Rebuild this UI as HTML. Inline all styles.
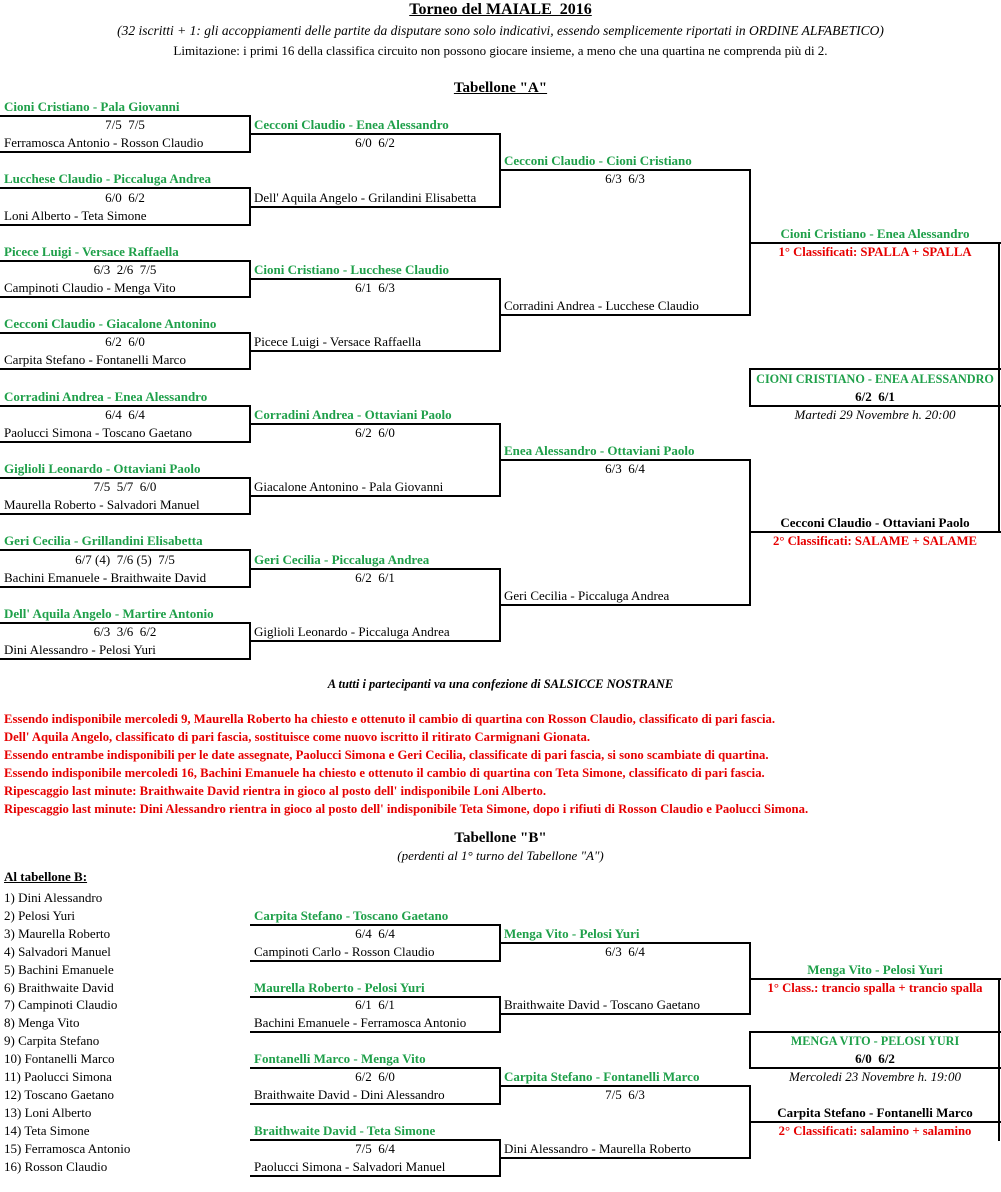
<!DOCTYPE html>
<html><head><meta charset="utf-8"><style>
body{margin:0;width:1001px;height:1192px;background:#fff;position:relative;overflow:hidden;font-family:"Liberation Serif",serif;color:#000}
.t{position:absolute;white-space:nowrap;font-size:13px;line-height:18px}
.g{color:#1fa04a;font-weight:bold}
.r{color:#e60000;font-weight:bold;font-size:12.7px}
.b{font-weight:bold}
.i{font-style:italic}
.c{text-align:center}
.h{position:absolute;height:2px;background:#000}
.v{position:absolute;width:2px;background:#000}
</style></head><body>
<div class="t b c" style="top:0;left:0;width:1001px;font-size:16px;line-height:20px"><u>Torneo del MAIALE&nbsp; 2016</u></div>
<div class="t i c" style="top:22px;left:0;width:1001px;font-size:13.5px">(32 iscritti + 1: gli accoppiamenti delle partite da disputare sono solo indicativi, essendo semplicemente riportati in ORDINE ALFABETICO)</div>
<div class="t c" style="top:42px;left:0;width:1001px;font-size:13px">Limitazione: i primi 16 della classifica circuito non possono giocare insieme, a meno che una quartina ne comprenda più di 2.</div>
<div class="t b c" style="top:78px;left:0;width:1001px;font-size:15px;line-height:20px"><u>Tabellone "A"</u></div>

<!-- Column A -->
<div class="t g" style="left:4px;top:98px">Cioni Cristiano - Pala Giovanni</div>
<div class="t c" style="left:0;width:250px;top:116.1px">7/5&nbsp; 7/5</div>
<div class="t" style="left:4px;top:134.2px">Ferramosca Antonio - Rosson Claudio</div>
<div class="h" style="left:0;width:251px;top:115px"></div><div class="h" style="left:0;width:251px;top:151.2px"></div><div class="v" style="left:249px;top:115px;height:38px"></div>

<div class="t g" style="left:4px;top:170.4px">Lucchese Claudio - Piccaluga Andrea</div>
<div class="t c" style="left:0;width:250px;top:188.5px">6/0&nbsp; 6/2</div>
<div class="t" style="left:4px;top:206.6px">Loni Alberto - Teta Simone</div>
<div class="h" style="left:0;width:251px;top:187.4px"></div><div class="h" style="left:0;width:251px;top:223.6px"></div><div class="v" style="left:249px;top:187.4px;height:38px"></div>

<div class="t g" style="left:4px;top:242.8px">Picece Luigi - Versace Raffaella</div>
<div class="t c" style="left:0;width:250px;top:260.9px">6/3&nbsp; 2/6&nbsp; 7/5</div>
<div class="t" style="left:4px;top:279px">Campinoti Claudio - Menga Vito</div>
<div class="h" style="left:0;width:251px;top:259.8px"></div><div class="h" style="left:0;width:251px;top:296px"></div><div class="v" style="left:249px;top:259.8px;height:38px"></div>

<div class="t g" style="left:4px;top:315.2px">Cecconi Claudio - Giacalone Antonino</div>
<div class="t c" style="left:0;width:250px;top:333.3px">6/2&nbsp; 6/0</div>
<div class="t" style="left:4px;top:351.4px">Carpita Stefano - Fontanelli Marco</div>
<div class="h" style="left:0;width:251px;top:332.2px"></div><div class="h" style="left:0;width:251px;top:368.4px"></div><div class="v" style="left:249px;top:332.2px;height:38px"></div>

<div class="t g" style="left:4px;top:387.6px">Corradini Andrea - Enea Alessandro</div>
<div class="t c" style="left:0;width:250px;top:405.7px">6/4&nbsp; 6/4</div>
<div class="t" style="left:4px;top:423.8px">Paolucci Simona - Toscano Gaetano</div>
<div class="h" style="left:0;width:251px;top:404.6px"></div><div class="h" style="left:0;width:251px;top:440.8px"></div><div class="v" style="left:249px;top:404.6px;height:38px"></div>

<div class="t g" style="left:4px;top:460px">Giglioli Leonardo - Ottaviani Paolo</div>
<div class="t c" style="left:0;width:250px;top:478.1px">7/5&nbsp; 5/7&nbsp; 6/0</div>
<div class="t" style="left:4px;top:496.2px">Maurella Roberto - Salvadori Manuel</div>
<div class="h" style="left:0;width:251px;top:477px"></div><div class="h" style="left:0;width:251px;top:513.2px"></div><div class="v" style="left:249px;top:477px;height:38px"></div>

<div class="t g" style="left:4px;top:532.4px">Geri Cecilia - Grillandini Elisabetta</div>
<div class="t c" style="left:0;width:250px;top:550.5px">6/7 (4)&nbsp; 7/6 (5)&nbsp; 7/5</div>
<div class="t" style="left:4px;top:568.6px">Bachini Emanuele - Braithwaite David</div>
<div class="h" style="left:0;width:251px;top:549.4px"></div><div class="h" style="left:0;width:251px;top:585.6px"></div><div class="v" style="left:249px;top:549.4px;height:38px"></div>

<div class="t g" style="left:4px;top:604.8px">Dell' Aquila Angelo - Martire Antonio</div>
<div class="t c" style="left:0;width:250px;top:622.9px">6/3&nbsp; 3/6&nbsp; 6/2</div>
<div class="t" style="left:4px;top:641px">Dini Alessandro - Pelosi Yuri</div>
<div class="h" style="left:0;width:251px;top:621.8px"></div><div class="h" style="left:0;width:251px;top:658px"></div><div class="v" style="left:249px;top:621.8px;height:38px"></div>

<!-- Column B -->
<div class="t g" style="left:254px;top:116.1px">Cecconi Claudio - Enea Alessandro</div>
<div class="t c" style="left:250px;width:250px;top:134.2px">6/0&nbsp; 6/2</div>
<div class="t" style="left:254px;top:188.5px">Dell' Aquila Angelo - Grilandini Elisabetta</div>
<div class="h" style="left:250px;width:251px;top:133.1px"></div><div class="h" style="left:250px;width:251px;top:205.5px"></div><div class="v" style="left:499px;top:133.1px;height:74.4px"></div>

<div class="t g" style="left:254px;top:260.9px">Cioni Cristiano - Lucchese Claudio</div>
<div class="t c" style="left:250px;width:250px;top:279px">6/1&nbsp; 6/3</div>
<div class="t" style="left:254px;top:333.3px">Picece Luigi - Versace Raffaella</div>
<div class="h" style="left:250px;width:251px;top:277.9px"></div><div class="h" style="left:250px;width:251px;top:350.3px"></div><div class="v" style="left:499px;top:277.9px;height:74.4px"></div>

<div class="t g" style="left:254px;top:405.7px">Corradini Andrea - Ottaviani Paolo</div>
<div class="t c" style="left:250px;width:250px;top:423.8px">6/2&nbsp; 6/0</div>
<div class="t" style="left:254px;top:478.1px">Giacalone Antonino - Pala Giovanni</div>
<div class="h" style="left:250px;width:251px;top:422.7px"></div><div class="h" style="left:250px;width:251px;top:495.1px"></div><div class="v" style="left:499px;top:422.7px;height:74.4px"></div>

<div class="t g" style="left:254px;top:550.5px">Geri Cecilia - Piccaluga Andrea</div>
<div class="t c" style="left:250px;width:250px;top:568.6px">6/2&nbsp; 6/1</div>
<div class="t" style="left:254px;top:622.9px">Giglioli Leonardo - Piccaluga Andrea</div>
<div class="h" style="left:250px;width:251px;top:567.5px"></div><div class="h" style="left:250px;width:251px;top:639.9px"></div><div class="v" style="left:499px;top:567.5px;height:74.4px"></div>

<!-- Column C -->
<div class="t g" style="left:504px;top:152.3px">Cecconi Claudio - Cioni Cristiano</div>
<div class="t c" style="left:500px;width:250px;top:170.4px">6/3&nbsp; 6/3</div>
<div class="t" style="left:504px;top:297.1px">Corradini Andrea - Lucchese Claudio</div>
<div class="h" style="left:500px;width:251px;top:169.3px"></div><div class="h" style="left:500px;width:251px;top:314.1px"></div><div class="v" style="left:749px;top:169.3px;height:146.8px"></div>

<div class="t g" style="left:504px;top:441.9px">Enea Alessandro - Ottaviani Paolo</div>
<div class="t c" style="left:500px;width:250px;top:460px">6/3&nbsp; 6/4</div>
<div class="t" style="left:504px;top:586.7px">Geri Cecilia - Piccaluga Andrea</div>
<div class="h" style="left:500px;width:251px;top:458.9px"></div><div class="h" style="left:500px;width:251px;top:603.7px"></div><div class="v" style="left:749px;top:458.9px;height:146.8px"></div>

<!-- Column D -->
<div class="t g c" style="left:750px;width:250px;top:224.7px">Cioni Cristiano - Enea Alessandro</div>
<div class="t r c" style="left:750px;width:250px;top:242.8px">1° Classificati: SPALLA + SPALLA</div>
<div class="h" style="left:750px;width:251px;top:241.7px"></div>
<div class="v" style="left:998px;top:241.7px;height:291.6px"></div>
<div class="h" style="left:750px;width:251px;top:368.4px"></div>
<div class="h" style="left:750px;width:251px;top:404.6px"></div>
<div class="v" style="left:749px;top:368.4px;height:38.2px"></div>
<div class="t g c" style="left:750px;width:250px;top:369.5px;font-size:12.2px">CIONI CRISTIANO - ENEA ALESSANDRO</div>
<div class="t b c" style="left:750px;width:250px;top:387.6px">6/2&nbsp; 6/1</div>
<div class="t i c" style="left:750px;width:250px;top:405.7px">Martedi 29 Novembre h. 20:00</div>
<div class="t b c" style="left:750px;width:250px;top:514.3px">Cecconi Claudio - Ottaviani Paolo</div>
<div class="h" style="left:750px;width:251px;top:531.3px"></div>
<div class="t r c" style="left:750px;width:250px;top:532.4px">2° Classificati: SALAME + SALAME</div>

<div class="t b i c" style="left:0;width:1001px;top:675px;font-size:12.5px">A tutti i partecipanti va una confezione di SALSICCE NOSTRANE</div>
<div class="t r" style="left:4px;top:710px">Essendo indisponibile mercoledi 9, Maurella Roberto ha chiesto e ottenuto il cambio di quartina con Rosson Claudio, classificato di pari fascia.</div>
<div class="t r" style="left:4px;top:728px">Dell' Aquila Angelo, classificato di pari fascia, sostituisce come nuovo iscritto il ritirato Carmignani Gionata.</div>
<div class="t r" style="left:4px;top:746px">Essendo entrambe indisponibili per le date assegnate, Paolucci Simona e Geri Cecilia, classificate di pari fascia, si sono scambiate di quartina.</div>
<div class="t r" style="left:4px;top:764px">Essendo indisponibile mercoledi 16, Bachini Emanuele ha chiesto e ottenuto il cambio di quartina con Teta Simone, classificato di pari fascia.</div>
<div class="t r" style="left:4px;top:782px">Ripescaggio last minute: Braithwaite David rientra in gioco al posto dell' indisponibile Loni Alberto.</div>
<div class="t r" style="left:4px;top:800px">Ripescaggio last minute: Dini Alessandro rientra in gioco al posto dell' indisponibile Teta Simone, dopo i rifiuti di Rosson Claudio e Paolucci Simona.</div>

<div class="t b c" style="left:0;width:1001px;top:828px;font-size:15px;line-height:20px">Tabellone "B"</div>
<div class="t i c" style="left:0;width:1001px;top:847px;font-size:13px">(perdenti al 1° turno del Tabellone "A")</div>
<div class="t b" style="left:4px;top:868px"><u>Al tabellone B:</u></div>

<div class="t" style="left:4px;top:889px">1) Dini Alessandro</div>
<div class="t" style="left:4px;top:906.9px">2) Pelosi Yuri</div>
<div class="t" style="left:4px;top:924.8px">3) Maurella Roberto</div>
<div class="t" style="left:4px;top:942.7px">4) Salvadori Manuel</div>
<div class="t" style="left:4px;top:960.6px">5) Bachini Emanuele</div>
<div class="t" style="left:4px;top:978.5px">6) Braithwaite David</div>
<div class="t" style="left:4px;top:996.4px">7) Campinoti Claudio</div>
<div class="t" style="left:4px;top:1014.3px">8) Menga Vito</div>
<div class="t" style="left:4px;top:1032.2px">9) Carpita Stefano</div>
<div class="t" style="left:4px;top:1050.1px">10) Fontanelli Marco</div>
<div class="t" style="left:4px;top:1068px">11) Paolucci Simona</div>
<div class="t" style="left:4px;top:1085.9px">12) Toscano Gaetano</div>
<div class="t" style="left:4px;top:1103.8px">13) Loni Alberto</div>
<div class="t" style="left:4px;top:1121.7px">14) Teta Simone</div>
<div class="t" style="left:4px;top:1139.6px">15) Ferramosca Antonio</div>
<div class="t" style="left:4px;top:1157.5px">16) Rosson Claudio</div>

<!-- B col1 -->
<div class="t g" style="left:254px;top:906.9px">Carpita Stefano - Toscano Gaetano</div>
<div class="t c" style="left:250px;width:250px;top:924.8px">6/4&nbsp; 6/4</div>
<div class="t" style="left:254px;top:942.7px">Campinoti Carlo - Rosson Claudio</div>
<div class="h" style="left:250px;width:251px;top:923.9px"></div><div class="h" style="left:250px;width:251px;top:959.7px"></div><div class="v" style="left:499px;top:923.9px;height:37.8px"></div>

<div class="t g" style="left:254px;top:978.5px">Maurella Roberto - Pelosi Yuri</div>
<div class="t c" style="left:250px;width:250px;top:996.4px">6/1&nbsp; 6/1</div>
<div class="t" style="left:254px;top:1014.3px">Bachini Emanuele - Ferramosca Antonio</div>
<div class="h" style="left:250px;width:251px;top:995.5px"></div><div class="h" style="left:250px;width:251px;top:1031.3px"></div><div class="v" style="left:499px;top:995.5px;height:37.8px"></div>

<div class="t g" style="left:254px;top:1050.1px">Fontanelli Marco - Menga Vito</div>
<div class="t c" style="left:250px;width:250px;top:1068px">6/2&nbsp; 6/0</div>
<div class="t" style="left:254px;top:1085.9px">Braithwaite David - Dini Alessandro</div>
<div class="h" style="left:250px;width:251px;top:1067.1px"></div><div class="h" style="left:250px;width:251px;top:1102.9px"></div><div class="v" style="left:499px;top:1067.1px;height:37.8px"></div>

<div class="t g" style="left:254px;top:1121.7px">Braithwaite David - Teta Simone</div>
<div class="t c" style="left:250px;width:250px;top:1139.6px">7/5&nbsp; 6/4</div>
<div class="t" style="left:254px;top:1157.5px">Paolucci Simona - Salvadori Manuel</div>
<div class="h" style="left:250px;width:251px;top:1138.7px"></div><div class="h" style="left:250px;width:251px;top:1174.5px"></div><div class="v" style="left:499px;top:1138.7px;height:37.8px"></div>

<!-- B col2 -->
<div class="t g" style="left:504px;top:924.8px">Menga Vito - Pelosi Yuri</div>
<div class="t c" style="left:500px;width:250px;top:942.7px">6/3&nbsp; 6/4</div>
<div class="t" style="left:504px;top:996.4px">Braithwaite David - Toscano Gaetano</div>
<div class="h" style="left:500px;width:251px;top:941.8px"></div><div class="h" style="left:500px;width:251px;top:1013.4px"></div><div class="v" style="left:749px;top:941.8px;height:73.6px"></div>

<div class="t g" style="left:504px;top:1068px">Carpita Stefano - Fontanelli Marco</div>
<div class="t c" style="left:500px;width:250px;top:1085.9px">7/5&nbsp; 6/3</div>
<div class="t" style="left:504px;top:1139.6px">Dini Alessandro - Maurella Roberto</div>
<div class="h" style="left:500px;width:251px;top:1085px"></div><div class="h" style="left:500px;width:251px;top:1156.6px"></div><div class="v" style="left:749px;top:1085px;height:73.6px"></div>

<!-- B col3 -->
<div class="t g c" style="left:750px;width:250px;top:960.6px">Menga Vito - Pelosi Yuri</div>
<div class="h" style="left:750px;width:251px;top:977.6px"></div>
<div class="t r c" style="left:750px;width:250px;top:978.5px">1° Class.: trancio spalla + trancio spalla</div>
<div class="v" style="left:998px;top:977.6px;height:163.1px"></div>
<div class="h" style="left:750px;width:251px;top:1031.3px"></div>
<div class="h" style="left:750px;width:251px;top:1067.1px"></div>
<div class="v" style="left:749px;top:1031.3px;height:37.8px"></div>
<div class="t g c" style="left:750px;width:250px;top:1032.2px;font-size:12.2px">MENGA VITO - PELOSI YURI</div>
<div class="t b c" style="left:750px;width:250px;top:1050.1px">6/0&nbsp; 6/2</div>
<div class="t i c" style="left:750px;width:250px;top:1068px">Mercoledi 23 Novembre h. 19:00</div>
<div class="t b c" style="left:750px;width:250px;top:1103.8px">Carpita Stefano - Fontanelli Marco</div>
<div class="h" style="left:750px;width:251px;top:1120.8px"></div>
<div class="t r c" style="left:750px;width:250px;top:1121.7px">2° Classificati: salamino + salamino</div>
</body></html>
